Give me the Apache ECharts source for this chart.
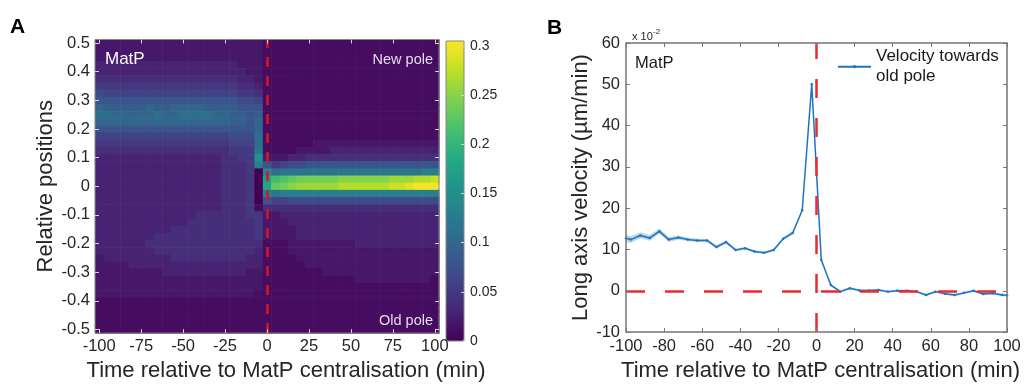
<!DOCTYPE html>
<html>
<head>
<meta charset="utf-8">
<script src="https://cdn.jsdelivr.net/npm/echarts@6/dist/echarts.min.js"></script>
<style>
  html, body { margin: 0; padding: 0; background: #ffffff; }
  #chart { width: 1025px; height: 387px; }
</style>
</head>
<body>
<div id="chart"></div>
<script>
// ---------- Panel A: MatP localisation density ----------
// Time bins (min) and relative cell positions (top row = new pole side)
const heatTimes = [-100, -95, -90, -85, -80, -75, -70, -65, -60, -55, -50, -45, -40, -35, -30, -25, -20,
  -15, -10, -5, 0, 5, 10, 15, 20, 25, 30, 35, 40, 45, 50, 55, 60, 65, 70, 75, 80, 85, 90, 95, 100];
const heatPositions = [0.5, 0.475, 0.45, 0.425, 0.4, 0.375, 0.35, 0.325, 0.3, 0.275, 0.25, 0.225, 0.2,
  0.175, 0.15, 0.125, 0.1, 0.075, 0.05, 0.025, 0, -0.025, -0.05, -0.075, -0.1, -0.125, -0.15, -0.175,
  -0.2, -0.225, -0.25, -0.275, -0.3, -0.325, -0.35, -0.375, -0.4, -0.425, -0.45, -0.475, -0.5];
// One string per position row; each character is a density in hundredths (base 36)
const heatRows = [
  '2222222222222222' + '2222' + '1' + '11111111111111111111',
  '2222222222222222' + '2222' + '1' + '11111111111111111111',
  '2222222222222222' + '2222' + '1' + '11111111111111111111',
  '3333333333333333' + '3222' + '1' + '11111111111111111111',
  '3333333333333333' + '3322' + '1' + '11111111111111111111',
  '4444444444444444' + '4332' + '1' + '11111111111111111111',
  '5555555555555555' + '5443' + '1' + '11111111111111111111',
  '7666666666666666' + '6554' + '1' + '11111111111111111111',
  '8888888888888888' + '8776' + '1' + '11111111111111111111',
  'a99999a99aaaa999' + '9888' + '1' + '11111111111111111111',
  'bbaaaaabaabbbbaa' + '9989' + '1' + '11111111111111111111',
  'aaaaaaaaaaaaaaaa' + '998a' + '1' + '11111111111111111111',
  '8888888888888888' + '888a' + '1' + '11111111111111111111',
  '6666666666666666' + '777b' + '1' + '11111111111111111111',
  '5555555555555555' + '666b' + '1' + '11111222222222222222',
  '4444444444444444' + '555c' + '1' + '11122223333333333333',
  '3333333333333334' + '455f' + '2' + '22334444444444444444',
  '3333333333333334' + '445d' + '8' + '56778888888888888888',
  '3333333333333334' + '4450' + 'e' + 'bcccccccccccccccccdd',
  '3333333333333334' + '4450' + 'h' + 'lmnoooooppppppqqqrrs',
  '3333333333333334' + '4450' + 'i' + 'nopqqqqqrrrrrrsstuuu',
  '3333333333333334' + '4450' + 'd' + 'cddddddddddddddddddd',
  '3333333333333334' + '4450' + '8' + '66777777777777777777',
  '3333333333333334' + '4451' + '4' + '44444444444444444444',
  '3333333333334444' + '4455' + '2' + '23333333333333333333',
  '3333333333344444' + '4445' + '2' + '22333333333333333333',
  '3333333334444444' + '4445' + '2' + '22233333333333333333',
  '3333333444444444' + '4445' + '2' + '22233333333333333333',
  '3333334444444444' + '4444' + '1' + '11222222223333333333',
  '3333333444444444' + '4443' + '1' + '11222222222222222222',
  '2333333334444444' + '4433' + '1' + '11122222222222222222',
  '2222333333333333' + '3333' + '1' + '11112222222222222222',
  '2222222233333333' + '3322' + '1' + '11111122222222222222',
  '2222222222222222' + '2222' + '1' + '11111111112222222221',
  '2222222222222222' + '2222' + '1' + '11111111111111111111',
  '2222222222222222' + '2221' + '1' + '11111111111111111111',
  '1111111111111111' + '1111' + '1' + '11111111111111111111',
  '1111111111111111' + '1111' + '1' + '11111111111111111111',
  '1111111111111111' + '1111' + '1' + '11111111111111111111',
  '1111111111111111' + '1111' + '1' + '11111111111111111111',
  '1111111111111111' + '1111' + '1' + '11111111111111111111'
];
const heatTicksX = [-100, -75, -50, -25, 0, 25, 50, 75, 100];
const heatTicksY = [-0.5, -0.4, -0.3, -0.2, -0.1, 0, 0.1, 0.2, 0.3, 0.4, 0.5];
const colorbarTicks = [0, 0.05, 0.1, 0.15, 0.2, 0.25, 0.3];

// ---------- Panel B: long axis velocity (x 10^-2 um/min) ----------
const velTime = [-100, -97.5, -92.5, -87.5, -82.5, -77.5, -72.5, -67.5, -62.5, -57.5, -52.5, -47.5,
  -42.5, -37.5, -32.5, -27.5, -22.5, -17.5, -12.5, -7.5, -2.5, 2.5, 7.5, 12.5, 17.5, 22.5, 27.5, 32.5,
  37.5, 42.5, 47.5, 52.5, 57.5, 62.5, 67.5, 72.5, 77.5, 82.5, 87.5, 92.5, 97.5, 100];
const velMean = [12.7, 12.4, 13.4, 12.8, 14.4, 12.4, 12.9, 12.4, 12.2, 12.2, 10.6, 11.8, 9.9, 10.3,
  9.5, 9.2, 9.9, 12.6, 14.0, 19.5, 50.0, 7.5, 1.4, -0.2, 0.6, 0.1, 0.1, 0.2, -0.2, 0.0, 0.0, -0.2,
  -1.0, -0.2, -0.7, -1.0, -0.5, 0.0, -0.8, -0.6, -1.0, -1.1];
const velErr = [0.9, 0.8, 0.7, 0.7, 0.6, 0.6, 0.5, 0.4, 0.4, 0.4, 0.4, 0.4, 0.3, 0.3, 0.3, 0.3, 0.3,
  0.3, 0.4, 0.4, 0.5, 0.4, 0.3, 0.3, 0.3, 0.3, 0.3, 0.3, 0.3, 0.3, 0.3, 0.3, 0.3, 0.3, 0.3, 0.3, 0.3,
  0.3, 0.3, 0.3, 0.3, 0.3];
const velLegend = 'Velocity towards\nold pole';

// ---------- Shared styling ----------
const FONT = 'Liberation Sans, Arial, Helvetica, sans-serif';
const TXT = '#262626';
const BOX = '#858585';
const viridis = ['#440154', '#482475', '#414487', '#355f8d', '#2a788e', '#21918c', '#22a884',
  '#44bf70', '#7ad151', '#bddf26', '#fde725'];

const heatData = [];
heatRows.forEach((row, r) => {
  for (let c = 0; c < heatTimes.length; c++) {
    heatData.push([heatTimes[c], heatPositions[r], parseInt(row[c], 36) / 100]);
  }
});
const halfT = (heatTimes[1] - heatTimes[0]) / 2;
const halfP = (heatPositions[0] - heatPositions[1]) / 2;

const velLine = velTime.map((t, i) => [t, velMean[i]]);
const velBand = velTime.map((t, i) => [t, velMean[i] - velErr[i], velMean[i] + velErr[i]]);

const chart = echarts.init(document.getElementById('chart'), null, { renderer: 'canvas' });

const tickLabel = { color: TXT, fontSize: 16.5, fontFamily: FONT };
const axisName = { color: TXT, fontSize: 22, fontFamily: FONT };
const hiddenLine = { show: false, onZero: false };

chart.setOption({
  animation: false,
  backgroundColor: '#ffffff',
  textStyle: { fontFamily: FONT },
  grid: [
    { left: 95, top: 39.5, width: 344, height: 301, show: true, z: 10,
      backgroundColor: 'transparent', borderColor: BOX, borderWidth: 1 },
    { left: 626, top: 43, width: 381, height: 297, show: true, z: 10,
      backgroundColor: 'transparent', borderColor: '#767676', borderWidth: 1.5 },
    { left: 446, top: 41, width: 18, height: 300, show: true, z: 10,
      backgroundColor: 'transparent', borderColor: BOX, borderWidth: 1 }
  ],
  xAxis: [
    { gridIndex: 0, type: 'value', min: -100 - halfT, max: 100 + halfT, position: 'bottom', z: 11,
      axisLine: hiddenLine, splitLine: { show: false },
      axisTick: { inside: true, length: 4, customValues: heatTicksX, lineStyle: { color: '#d0d0d0' } },
      axisLabel: Object.assign({ customValues: heatTicksX, margin: 5 }, tickLabel),
      name: 'Time relative to MatP centralisation (min)', nameLocation: 'middle', nameGap: 25,
      nameTextStyle: Object.assign({ padding: [0, 0, 0, 38] }, axisName) },
    { gridIndex: 0, type: 'value', min: -100 - halfT, max: 100 + halfT, position: 'top', z: 11,
      axisLine: hiddenLine, splitLine: { show: false }, axisLabel: { show: false },
      axisTick: { inside: true, length: 4, customValues: heatTicksX, lineStyle: { color: '#d0d0d0' } } },
    { gridIndex: 1, type: 'value', min: -100, max: 100, interval: 20, position: 'bottom', z: 11,
      axisLine: hiddenLine, splitLine: { show: false },
      axisTick: { inside: true, length: 4, lineStyle: { color: '#767676' } },
      axisLabel: Object.assign({ margin: 6 }, tickLabel),
      name: 'Time relative to MatP centralisation (min)', nameLocation: 'middle', nameGap: 26,
      nameTextStyle: Object.assign({ padding: [0, 0, 0, 8] }, axisName) },
    { gridIndex: 1, type: 'value', min: -100, max: 100, interval: 20, position: 'top', z: 11,
      axisLine: hiddenLine, splitLine: { show: false }, axisLabel: { show: false },
      axisTick: { inside: true, length: 4, lineStyle: { color: '#767676' } } },
    { gridIndex: 2, type: 'value', min: 0, max: 1, show: false }
  ],
  yAxis: [
    { gridIndex: 0, type: 'value', min: -0.5 - halfP, max: 0.5 + halfP, position: 'left', z: 11,
      axisLine: hiddenLine, splitLine: { show: false },
      axisTick: { inside: true, length: 4, customValues: heatTicksY, lineStyle: { color: '#d0d0d0' } },
      axisLabel: Object.assign({ customValues: heatTicksY, margin: 5 }, tickLabel),
      name: 'Relative positions', nameLocation: 'middle', nameGap: 38, nameTextStyle: axisName },
    { gridIndex: 0, type: 'value', min: -0.5 - halfP, max: 0.5 + halfP, position: 'right', z: 11,
      axisLine: hiddenLine, splitLine: { show: false }, axisLabel: { show: false },
      axisTick: { inside: true, length: 4, customValues: heatTicksY, lineStyle: { color: '#d0d0d0' } } },
    { gridIndex: 1, type: 'value', min: -10, max: 60, interval: 10, position: 'left', z: 11,
      axisLine: hiddenLine, splitLine: { show: false },
      axisTick: { inside: true, length: 4, lineStyle: { color: '#767676' } },
      axisLabel: Object.assign({ margin: 6 }, tickLabel),
      name: 'Long axis velocity (\u00b5m/min)', nameLocation: 'middle', nameGap: 27,
      nameTextStyle: axisName },
    { gridIndex: 1, type: 'value', min: -10, max: 60, interval: 10, position: 'right', z: 11,
      axisLine: hiddenLine, splitLine: { show: false }, axisLabel: { show: false },
      axisTick: { inside: true, length: 4, lineStyle: { color: '#767676' } } },
    { gridIndex: 2, type: 'value', min: 0, max: 0.305, position: 'right', z: 11,
      axisLine: hiddenLine, splitLine: { show: false },
      axisTick: { inside: true, length: 3, customValues: colorbarTicks, lineStyle: { color: '#d0d0d0' } },
      axisLabel: { customValues: colorbarTicks, margin: 6, color: TXT, fontSize: 14, fontFamily: FONT } }
  ],
  visualMap: {
    type: 'continuous', seriesIndex: 0, dimension: 2, min: 0, max: 0.305,
    inRange: { color: viridis }, calculable: false, orient: 'vertical',
    left: 446, top: 41, itemWidth: 18, itemHeight: 300, padding: 0, text: null,
    hoverLink: false
  },
  legend: {
    data: [velLegend], left: 837, top: 36.7, orient: 'vertical', padding: 0,
    itemWidth: 33, itemHeight: 4, selectedMode: false,
    textStyle: { fontSize: 17, lineHeight: 20, color: '#1a1a1a', fontFamily: FONT, padding: [20, 0, 0, 0] }
  },
  series: [
    {
      type: 'custom', xAxisIndex: 0, yAxisIndex: 0, data: heatData, z: 2, silent: true,
      encode: { x: 0, y: 1 },
      renderItem: function (params, api) {
        const t = api.value(0), p = api.value(1);
        const a = api.coord([t - halfT, p + halfP]);
        const b = api.coord([t + halfT, p - halfP]);
        return {
          type: 'rect',
          shape: { x: a[0], y: a[1], width: b[0] - a[0] + 0.6, height: b[1] - a[1] + 0.6 },
          style: { fill: api.visual('color') }
        };
      }
    },
    {
      type: 'line', xAxisIndex: 0, yAxisIndex: 0, data: [], z: 5, silent: true,
      markLine: {
        silent: true, symbol: ['none', 'none'], label: { show: false },
        lineStyle: { color: '#d8161f', width: 2.5, type: [10, 9] },
        data: [{ xAxis: 0 }]
      }
    },
    {
      // shaded spread around the mean velocity, drawn once as a single polygon
      type: 'custom', xAxisIndex: 2, yAxisIndex: 2, data: velBand, z: 2, silent: true,
      encode: { x: 0, y: [1, 2] },
      renderItem: function (params, api) {
        if (params.dataIndex !== 0) return null;
        const upper = velBand.map(d => api.coord([d[0], d[2]]));
        const lower = velBand.map(d => api.coord([d[0], d[1]])).reverse();
        return {
          type: 'polygon',
          shape: { points: upper.concat(lower) },
          style: { fill: 'rgba(40,120,200,0.32)' }
        };
      }
    },
    {
      name: velLegend, type: 'line', xAxisIndex: 2, yAxisIndex: 2, data: velLine, z: 3,
      symbol: 'circle', symbolSize: 2.5, showSymbol: true,
      lineStyle: { color: '#1f74c0', width: 1.5 }, itemStyle: { color: '#1f74c0' }
    },
    {
      type: 'line', xAxisIndex: 2, yAxisIndex: 2, data: [], z: 5, silent: true,
      markLine: {
        silent: true, symbol: ['none', 'none'], label: { show: false },
        lineStyle: { color: '#ea2a2f', width: 2.5, type: [19, 20] },
        data: [{ xAxis: 0 }, { yAxis: 0 }]
      }
    }
  ],
  graphic: [
    { type: 'text', left: 10, top: 17, z: 20,
      style: { text: 'A', fontSize: 21, fontWeight: 'bold', fill: '#000', fontFamily: FONT } },
    { type: 'text', left: 547, top: 18, z: 20,
      style: { text: 'B', fontSize: 21, fontWeight: 'bold', fill: '#000', fontFamily: FONT } },
    { type: 'text', left: 105, top: 51, z: 20,
      style: { text: 'MatP', fontSize: 17, fill: '#ffffff', fontFamily: FONT } },
    { type: 'text', right: 1025 - 433, top: 52, z: 20,
      style: { text: 'New pole', fontSize: 14.5, fill: '#e4dcec', fontFamily: FONT } },
    { type: 'text', right: 1025 - 433, top: 313, z: 20,
      style: { text: 'Old pole', fontSize: 14.5, fill: '#e4dcec', fontFamily: FONT } },
    { type: 'text', left: 635, top: 55, z: 20,
      style: { text: 'MatP', fontSize: 16.5, fill: '#1a1a1a', fontFamily: FONT } },
    { type: 'text', left: 632, top: 31, z: 20,
      style: { text: 'x 10', fontSize: 11, fill: TXT, fontFamily: FONT } },
    { type: 'text', left: 653, top: 28, z: 20,
      style: { text: '-2', fontSize: 8, fill: TXT, fontFamily: FONT } }
  ]
});
</script>
</body>
</html>
